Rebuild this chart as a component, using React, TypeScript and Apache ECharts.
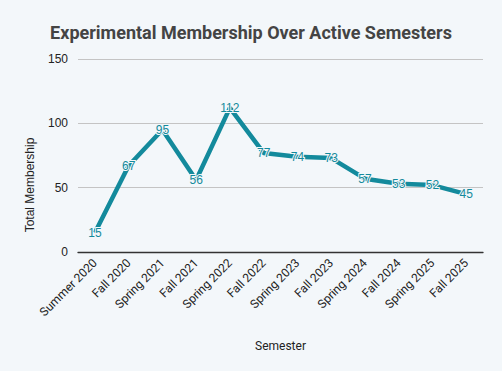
import React, { useEffect, useRef } from "react";
import * as echarts from "echarts";

const categories = [
  "Summer 2020", "Fall 2020", "Spring 2021", "Fall 2021", "Spring 2022", "Fall 2022",
  "Spring 2023", "Fall 2023", "Spring 2024", "Fall 2024", "Spring 2025", "Fall 2025",
];
const membership = [15, 67, 95, 56, 112, 77, 74, 73, 57, 53, 52, 45];
const yTitle = "Total Membership";

const BG = "#f3f7fa";
const LINE = "#138a9c";

export default function App() {
  const ref = useRef<HTMLDivElement>(null);
  useEffect(() => {
    if (!ref.current) return;
    const chart = echarts.init(ref.current, null, { renderer: "svg" });
    chart.setOption({
      animation: false,
      backgroundColor: BG,
      textStyle: { fontFamily: "Roboto" },
      title: {
        text: "Experimental Membership Over Active Semesters",
        left: "center",
        top: 18,
        textStyle: { fontSize: 18, fontWeight: "bold", color: "#444444", fontFamily: "Roboto" },
      },
      graphic: [
        {
          type: "text",
          x: 30,
          y: 185,
          rotation: Math.PI / 2,
          style: {
            text: yTitle,
            fontSize: 12,
            fontFamily: "Liberation Sans",
            fill: "#222",
            align: "center",
            verticalAlign: "middle",
          },
        },
      ],
      grid: { left: 78, right: 19, top: 59, bottom: 119 },
      xAxis: {
        type: "category",
        data: categories,
        name: "Semester",
        nameLocation: "middle",
        nameGap: 88,
        nameTextStyle: { fontSize: 12, color: "#222" },
        axisLine: { lineStyle: { color: "#333", width: 1.3 } },
        axisTick: { show: false },
        axisLabel: { rotate: 45, fontSize: 12, color: "#222", margin: 9 },
      },
      yAxis: {
        type: "value",
        min: 0,
        max: 150,
        interval: 50,
        axisLine: { show: false },
        axisTick: { show: false },
        axisLabel: { fontSize: 12, color: "#222", margin: 10, fontFamily: "Liberation Sans" },
        splitLine: { lineStyle: { color: "#c4c4c4", width: 1 } },
      },
      series: [
        {
          type: "line",
          data: membership,
          symbol: "circle",
          symbolSize: 0,
          showSymbol: true,
          itemStyle: { color: "rgba(0,0,0,0)" },
          lineStyle: { color: LINE, width: 4.5 },
          label: {
            show: true,
            position: "inside",
            color: LINE,
            fontSize: 12,
            fontFamily: "Liberation Sans",
            textBorderColor: BG,
            textBorderWidth: 2,
          },
        },
      ],
    });
    return () => chart.dispose();
  }, []);
  return (
    <div
      ref={ref}
      style={{ position: "fixed", left: 0, top: 0, width: 502, height: 371 }}
    />
  );
}
